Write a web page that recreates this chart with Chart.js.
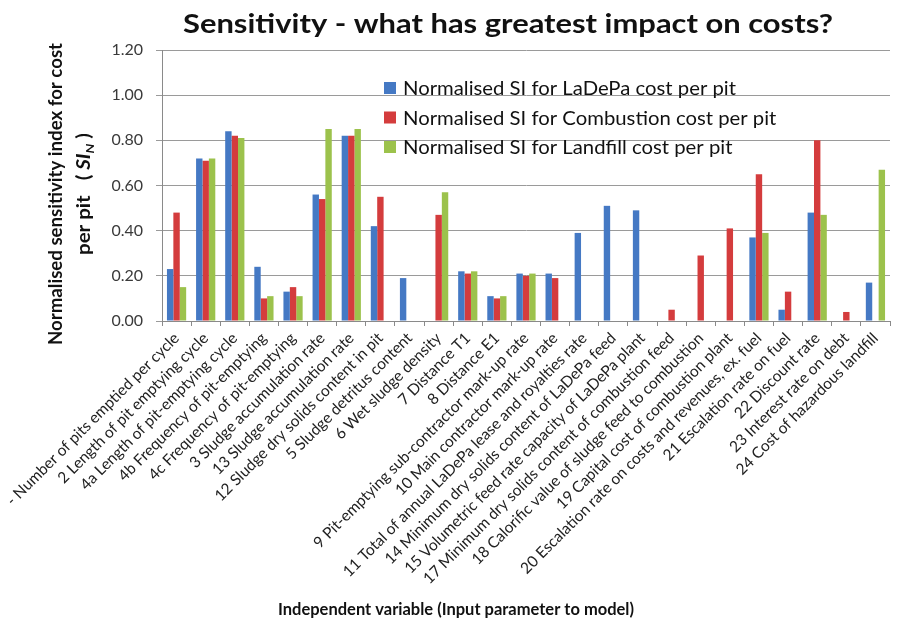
<!DOCTYPE html>
<html>
<head>
<meta charset="utf-8">
<script src="https://cdn.jsdelivr.net/npm/chart.js@4.4.1/dist/chart.umd.min.js"></script>
<style>
  html, body { margin: 0; padding: 0; background: #ffffff; }
  #wrap { width: 899px; height: 626px; position: relative; }
</style>
</head>
<body>
<div id="wrap"><canvas id="chart" width="899" height="626"></canvas></div>
<script>
// Input parameters of the cost model (x-axis categories)
const categories = [
  "- Number of pits emptied per cycle",
  "2 Length of pit emptying cycle",
  "4a Length of pit-emptying cycle",
  "4b Frequency of pit-emptying",
  "4c Frequency of pit-emptying",
  "3 Sludge accumulation rate",
  "13 Sludge accumulation rate",
  "12 Sludge dry solids content in pit",
  "5 Sludge detritus content",
  "6 Wet sludge density",
  "7 Distance T1",
  "8 Distance E1",
  "9 Pit-emptying sub-contractor mark-up rate",
  "10 Main contractor mark-up rate",
  "11 Total of annual LaDePa lease and royalties rate",
  "14 Minimum dry solids content of LaDePa feed",
  "15 Volumetric feed rate capacity of LaDePa plant",
  "17 Minimum dry solids content of combustion feed",
  "18 Calorific value of sludge feed to combustion",
  "19 Capital cost of combustion plant",
  "20 Escalation rate on costs and revenues, ex. fuel",
  "21 Escalation rate on fuel",
  "22 Discount rate",
  "23 Interest rate on debt",
  "24 Cost of hazardous landfill"
];

const seriesNames = [
  "Normalised SI for LaDePa cost per pit",
  "Normalised SI for Combustion cost per pit",
  "Normalised SI for Landfill cost per pit"
];

// Normalised sensitivity indices (null = parameter not used in that option)
const ladepaSI = [0.23, 0.72, 0.84, 0.24, 0.13, 0.56, 0.82, 0.42, 0.19, null, 0.22, 0.11, 0.21,
                  0.21, 0.39, 0.51, 0.49, null, null, null, 0.37, 0.05, 0.48, null, 0.17];
const combustionSI = [0.48, 0.71, 0.82, 0.10, 0.15, 0.54, 0.82, 0.55, null, 0.47, 0.21, 0.10, 0.20,
                      0.19, null, null, null, 0.05, 0.29, 0.41, 0.65, 0.13, 0.80, 0.04, null];
const landfillSI = [0.15, 0.72, 0.81, 0.11, 0.11, 0.85, 0.85, null, null, 0.57, 0.22, 0.11, 0.21,
                    null, null, null, null, null, null, null, 0.39, null, 0.47, null, 0.67];

const yTickValues = [0, 0.2, 0.4, 0.6, 0.8, 1.0, 1.2];

const seriesColors = ["#4579c4", "#d43c3d", "#9cc24c"];
const FONT = "Lato, 'Liberation Sans', sans-serif";

// Draw text stretched or condensed horizontally so it spans a given width
function fitText(ctx, text, x, y, targetW, align) {
  const w = ctx.measureText(text).width;
  const s = targetW / w;
  ctx.save();
  ctx.translate(x, y);
  ctx.scale(s, 1);
  ctx.textAlign = align || "left";
  ctx.fillText(text, 0, 0);
  ctx.restore();
}

const decorations = {
  id: "decorations",
  afterDraw(chart) {
    const ctx = chart.ctx;
    ctx.save();
    ctx.fillStyle = "#111111";
    ctx.textBaseline = "alphabetic";

    // Title
    ctx.font = "bold 27px " + FONT;
    fitText(ctx, "Sensitivity - what has greatest impact on costs?", 508, 33, 650, "center");

    // Legend drawn inside the plot area
    ctx.font = "20px " + FONT;
    const sx = 333 / ctx.measureText(seriesNames[0]).width;
    chart.data.datasets.forEach((ds, i) => {
      const by = 95 + i * 29.5;
      ctx.fillStyle = ds.backgroundColor;
      ctx.fillRect(384, by - 13, 12, 12);
      ctx.fillStyle = "#111111";
      ctx.save();
      ctx.translate(403, by);
      ctx.scale(sx, 1);
      ctx.textAlign = "left";
      ctx.fillText(ds.label, 0, 0);
      ctx.restore();
    });

    // Y axis title (two lines, rotated, with subscript)
    const cy = 194;
    ctx.save();
    ctx.translate(62, cy);
    ctx.rotate(-Math.PI / 2);
    ctx.font = "bold 18px " + FONT;
    fitText(ctx, "Normalised sensitivity index for cost", 0, 0, 302, "center");
    ctx.restore();

    ctx.save();
    ctx.translate(90, cy);
    ctx.rotate(-Math.PI / 2);
    const parts = [
      { t: "per pit   ( ", f: "bold 18px " + FONT, dy: 0 },
      { t: "SI", f: "italic bold 18px " + FONT, dy: 0 },
      { t: "N", f: "italic bold 12px " + FONT, dy: 4 },
      { t: " )", f: "bold 18px " + FONT, dy: 0 }
    ];
    let total = 0;
    parts.forEach(p => { ctx.font = p.f; p.w = ctx.measureText(p.t).width; total += p.w; });
    ctx.scale(122 / total, 1);
    let px = -total / 2;
    ctx.textAlign = "left";
    parts.forEach(p => { ctx.font = p.f; ctx.fillText(p.t, px, p.dy); px += p.w; });
    ctx.restore();

    // X axis title
    ctx.font = "bold 17px " + FONT;
    fitText(ctx, "Independent variable (Input parameter to model)", 456, 615, 356, "center");

    ctx.restore();
  }
};

const chart = new Chart(document.getElementById("chart"), {
  type: "bar",
  data: {
    labels: categories,
    datasets: [
      { label: seriesNames[0], data: ladepaSI, backgroundColor: seriesColors[0] },
      { label: seriesNames[1], data: combustionSI, backgroundColor: seriesColors[1] },
      { label: seriesNames[2], data: landfillSI, backgroundColor: seriesColors[2] }
    ]
  },
  options: {
    responsive: false,
    animation: false,
    devicePixelRatio: 1,
    layout: { padding: { left: 0, right: 9, top: 50, bottom: 0 } },
    datasets: { bar: { categoryPercentage: 0.66, barPercentage: 1.0, borderWidth: 0 } },
    plugins: { legend: { display: false }, title: { display: false }, tooltip: { enabled: false } },
    scales: {
      x: {
        grid: { drawOnChartArea: false, drawTicks: true, tickLength: 5, offset: true, color: "#8a8a8a" },
        border: { color: "#8a8a8a", width: 1 },
        ticks: {
          autoSkip: false,
          minRotation: 45,
          maxRotation: 45,
          padding: 3,
          color: "#222222",
          font: { family: FONT, size: 15.5 }
        },
        afterFit(scale) { scale.height = 305; scale.paddingLeft = 0; scale.paddingRight = 0; }
      },
      y: {
        min: 0,
        max: 1.2,
        afterBuildTicks(scale) { scale.ticks = yTickValues.map(v => ({ value: v })); },
        grid: { color: "#9a9a9a", lineWidth: 1, tickLength: 6 },
        border: { color: "#8a8a8a", width: 1 },
        ticks: {
          padding: 13,
          color: "#3a3a3a",
          font: { family: FONT, size: 16 },
          callback: v => Number(v).toFixed(2)
        },
        afterFit(scale) { scale.width = 162; scale.paddingTop = 0; scale.paddingBottom = 0; }
      }
    }
  },
  plugins: [decorations]
});
</script>
</body>
</html>
